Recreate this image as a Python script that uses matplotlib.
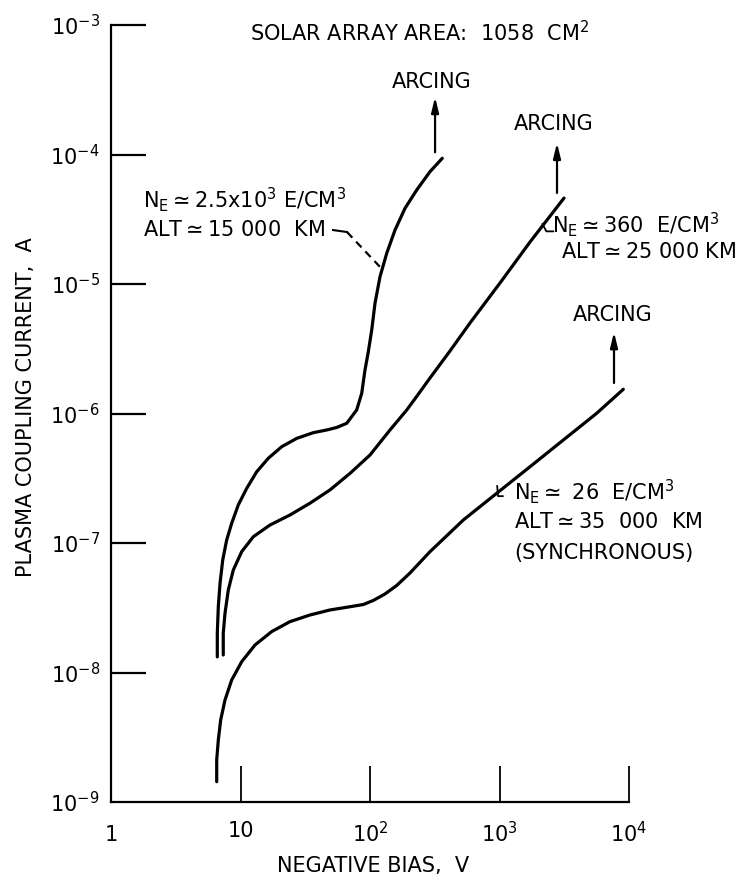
import matplotlib
matplotlib.use("Agg")
import matplotlib.pyplot as plt

plt.rcParams['font.family'] = ['DejaVu Sans']
plt.rcParams['mathtext.fontset'] = 'dejavusans'

# curves (bias V, current A)
v_15000 = [6.62, 6.62, 6.74, 6.95, 7.29, 7.82, 8.55, 9.62, 11.16, 13.34, 16.39, 20.8, 27.2, 36.5, 46.3,
           55.3, 66.1, 78.9, 86.3, 91.5, 97.0, 103.1, 109.3, 119.5, 134.6, 156.0, 186.3, 229.4, 290.6, 361.6]
i_15000 = [1.32e-8, 2.01e-8, 3.22e-8, 4.89e-8, 7.39e-8, 1.055e-7, 1.42e-7, 1.97e-7, 2.64e-7, 3.55e-7,
           4.51e-7, 5.54e-7, 6.43e-7, 7.11e-7, 7.46e-7, 7.8e-7, 8.40e-7, 1.064e-6, 1.432e-6, 2.17e-6,
           2.99e-6, 4.41e-6, 7.10e-6, 1.139e-5, 1.726e-5, 2.61e-5, 3.84e-5, 5.32e-5, 7.37e-5, 9.35e-5]
v_25000 = [7.36, 7.36, 7.59, 8.05, 8.80, 10.21, 12.56, 16.90, 24.1, 34.4, 49.1, 70.1, 100, 142.7, 192.1,
           222.6, 290.6, 414.7, 591.9, 1009, 1720, 3149]
i_25000 = [1.365e-8, 2.01e-8, 2.86e-8, 4.34e-8, 6.19e-8, 8.57e-8, 1.118e-7, 1.377e-7, 1.645e-7, 2.03e-7,
           2.57e-7, 3.45e-7, 4.78e-7, 7.46e-7, 1.064e-6, 1.30e-6, 1.88e-6, 3.04e-6, 5.00e-6, 1.018e-5,
           2.11e-5, 4.61e-5]
v_35000 = [6.55, 6.55, 6.74, 7.03, 7.59, 8.55, 10.21, 12.94, 17.41, 24.1, 34.4, 49.1, 70.1, 88.8, 106.1,
           130.6, 160.8, 203.7, 290.6, 525.5, 951.5, 1720, 3110, 5631, 9036]
i_35000 = [1.435e-9, 2.11e-9, 3.01e-9, 4.30e-9, 6.13e-9, 8.75e-9, 1.211e-8, 1.631e-8, 2.07e-8, 2.47e-8,
           2.78e-8, 3.04e-8, 3.22e-8, 3.35e-8, 3.60e-8, 4.04e-8, 4.70e-8, 5.87e-8, 8.57e-8, 1.505e-7,
           2.42e-7, 3.88e-7, 6.24e-7, 1.004e-6, 1.538e-6]

# arcing arrows: x, y start, y end, and label spot
arc_x = [318, 2780, 7660]
arc_y0 = [1.04e-4, 5.05e-5, 1.72e-6]
arc_y1 = [2.78e-4, 1.23e-4, 4.25e-6]
arc_lx = [301, 2635, 7522]
arc_ly = [3.63e-4, 1.72e-4, 5.76e-6]

x_ticks = [10, 100, 1000, 10000]
x_labels = ['10', r'$10^2$', r'$10^3$', r'$10^4$']
y_ticks = [1e-8, 1e-7, 1e-6, 1e-5, 1e-4, 1e-3]
y_labels = [r'$10^{-%d}$' % k for k in [8, 7, 6, 5, 4, 3]]

W, H = 748, 883
fig = plt.figure(figsize=(W / 100, H / 100), dpi=100)
ax = fig.add_axes([111 / W, 1 - 802 / H, (629 - 111) / W, (802 - 25) / H])
ax.set_xscale('log'); ax.set_yscale('log')
ax.set_xlim(1, 1e4); ax.set_ylim(1e-9, 1e-3)
for s in ['top', 'right']:
    ax.spines[s].set_visible(False)
for s in ['left', 'bottom']:
    ax.spines[s].set_linewidth(1.6)

ax.minorticks_off()
ax.set_xticks(x_ticks)
ax.set_xticklabels(x_labels)
ax.set_yticks(y_ticks)
ax.set_yticklabels(y_labels)
ax.tick_params(axis='y', direction='in', length=25, width=1.6, pad=8, labelsize=15)
ax.tick_params(axis='x', direction='in', length=26, width=1.3, pad=14, labelsize=15)
# labels for the corner values
ax.text(-0.022, 0, r'$10^{-9}$', transform=ax.transAxes, ha='right', va='center_baseline', fontsize=15)
ax.text(0, -0.030, '1', transform=ax.transAxes, ha='center', va='top', fontsize=15)

lw = 2.3
for v, i in [(v_15000, i_15000), (v_25000, i_25000), (v_35000, i_35000)]:
    ax.plot(v, i, color='black', lw=lw, solid_capstyle='round', solid_joinstyle='round')

for x, y0, y1, lx, ly in zip(arc_x, arc_y0, arc_y1, arc_lx, arc_ly):
    ax.annotate('', xy=(x, y1), xytext=(x, y0),
                arrowprops=dict(arrowstyle='-|>,head_length=0.9,head_width=0.22', color='black', lw=1.6,
                                shrinkA=0, shrinkB=0))
    ax.text(lx, ly, 'ARCING', ha='center', va='center', fontsize=15)

# leader lines
ax.plot([51.8, 66.4], [2.61e-5, 2.52e-5], color='black', lw=1.5)
ax.plot([66.4, 121.6], [2.52e-5, 1.33e-5], color='black', lw=1.6, ls=(0, (3.5, 2.5)))
ax.plot([2150, 2300, 2600], [2.9e-5, 2.55e-5, 2.55e-5], color='black', lw=1.3)
ax.plot([960, 975, 1060], [2.75e-7, 2.3e-7, 2.3e-7], color='black', lw=1.3)

def fx(x, y):
    return x / W, 1 - y / H

fs = 15
fig.text(*fx(250, 33), r'SOLAR ARRAY AREA:  1058  CM$^2$', ha='left', va='center', fontsize=fs)
fig.text(*fx(143, 200), r'N$_\mathregular{E}$$\simeq$2.5x10$^3$ E/CM$^3$', ha='left', va='center', fontsize=fs)
fig.text(*fx(143, 230), r'ALT$\simeq$15 000  KM', ha='left', va='center', fontsize=fs)
fig.text(*fx(552, 225), r'N$_\mathregular{E}$$\simeq$360  E/CM$^3$', ha='left', va='center', fontsize=fs)
fig.text(*fx(561, 252), r'ALT$\simeq$25 000 KM', ha='left', va='center', fontsize=fs)
fig.text(*fx(514, 492), r'N$_\mathregular{E}$$\simeq$ 26  E/CM$^3$', ha='left', va='center', fontsize=fs)
fig.text(*fx(514, 522), r'ALT$\simeq$35  000  KM', ha='left', va='center', fontsize=fs)
fig.text(*fx(514, 553), '(SYNCHRONOUS)', ha='left', va='center', fontsize=fs)

fig.text(*fx(26, 407), 'PLASMA COUPLING CURRENT,  A', rotation=90, ha='center', va='center', fontsize=fs)
fig.text(*fx(373, 866), 'NEGATIVE BIAS,  V', ha='center', va='center', fontsize=fs)

fig.savefig('out.png', dpi=100)
